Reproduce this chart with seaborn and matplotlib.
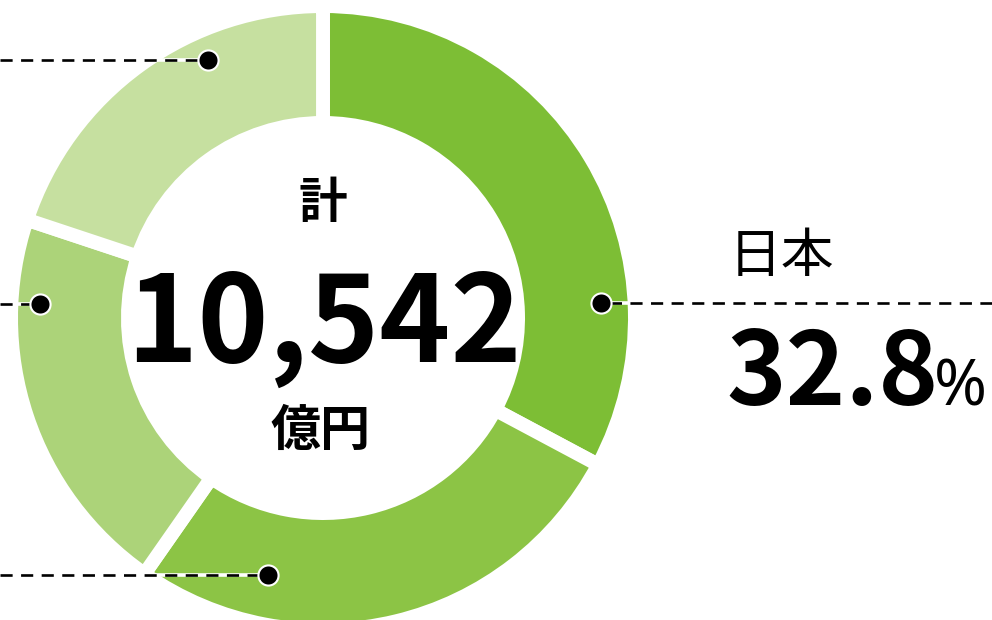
import matplotlib
matplotlib.use("Agg")
import matplotlib.pyplot as plt
import seaborn as sns

# ---- data ----
categories = ["日本", "その他2", "その他3", "その他4"]
shares = [32.8, 26.9, 20.4, 19.9]
colors_hex = ["#7dbe35", "#8cc445", "#acd379", "#c6e0a0"]
total_label = "10,542"
total_title = "計"
total_unit = "億円"
japan_name = "日本"
japan_value = "32.8"

sns.set_theme(style="white")
plt.rcParams['font.family'] = ['Noto Sans CJK JP', 'DejaVu Sans']
palette = sns.color_palette(colors_hex)

W, H = 992, 620
fig = plt.figure(figsize=(W / 100, H / 100), dpi=100)
ax = fig.add_axes([0, 0, 1, 1])

cx, cy = 323, H - 318
R_vis, r_vis = 305, 202
lw_pt = 10.0
half = lw_pt * 100 / 72 / 2
R = R_vis + half
width = R - (r_vis - half)

ax.pie(shares, colors=palette, startangle=90, counterclock=False,
       radius=R, center=(cx, cy), frame=True,
       wedgeprops=dict(width=width, edgecolor="white", linewidth=lw_pt))
ax.set_xlim(0, W)
ax.set_ylim(0, H)
ax.set_aspect("equal")
ax.axis("off")

# leader lines: (dot x, dot y, line end x, ring edge x)
leaders = [
    (601, 303, W, 628),
    (268, 575, 0, 150),
    (40, 304, 0, 18),
    (208, 60, 0, 150),
]
for dx, dy, ex, rx in leaders:
    y = H - dy
    ax.plot([dx, rx], [y, y], color="white", lw=2.6, solid_capstyle="butt", zorder=3)
    ax.plot([ex, dx], [y, y], color="black", lw=1.9, dashes=(4.6, 3.2), zorder=4)
    ax.plot([dx], [y], marker="o", markersize=14.5, color="black",
            markeredgecolor="white", markeredgewidth=1.5, zorder=5)

# center texts
ax.text(cx, H - 204, total_title, ha="center", va="center", fontsize=35,
        fontweight="bold", color="black")
ax.text(cx + 1, H - 362, total_label, ha="center", va="baseline", fontsize=87,
        fontweight="bold", color="black")
ax.text(cx - 3, H - 431, total_unit, ha="center", va="center", fontsize=36,
        fontweight="bold", color="black")

# Japan label
ax.text(729, H - 256, japan_name, ha="left", va="center", fontsize=38,
        color="black")
t = ax.text(726, H - 405, japan_value, ha="left", va="baseline", fontsize=73,
            fontweight="bold", color="black")
fig.canvas.draw()
bb = t.get_window_extent()
x_end = ax.transData.inverted().transform((bb.x1, bb.y0))[0]
ax.text(x_end - 4, H - 405, "%", ha="left", va="baseline", fontsize=46,
        fontweight="light", family=["Noto Sans", "DejaVu Sans"], color="black")

fig.savefig("out.png", dpi=100)
